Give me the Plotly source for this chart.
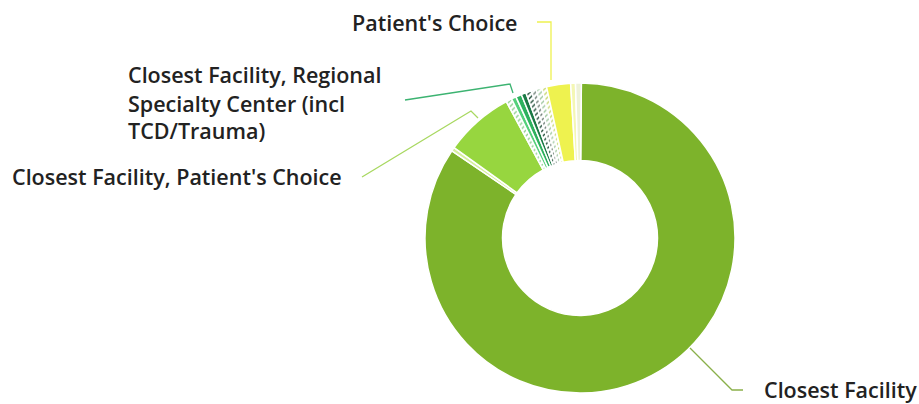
import plotly.graph_objects as go

W, H = 919, 404

# ---- data ----
categories = [
    "Closest Facility",
    "Closest Facility, Hospital Divert",
    "Closest Facility, Patient's Choice",
    "Closest Facility, On-Line Medical Direction",
    "Closest Facility, Regional Specialty Center (incl TCD/Trauma)",
    "Regional Specialty Center (incl TCD/Trauma)",
    "Closest Facility, Law Enforcement",
    "Family Choice",
    "Other",
    "Physician's Choice",
    "Closest Facility, Family Choice",
    "Patient's Choice",
    "Hospital Divert",
    "Law Enforcement",
]
values = [84.2, 0.4, 7.2, 0.6, 0.5, 0.6, 0.5, 0.6, 0.5, 0.6, 0.5, 2.5, 0.5, 0.6]
colors = ["#7db32b", "#d6ef9e", "#97d63f", "#ffffff", "#55d07a", "#2eb15e",
          "#1b7a45", "#ffffff", "#ffffff", "#ffffff", "#ffffff", "#eef24f",
          "#f4f7b4", "#eef2d8"]
pattern_shapes = ["", "", "", "/", "", "", "", "/", "/", "/", "/", "", "", ""]
pattern_fg = ["#000", "#000", "#000", "#8fd08f", "#000", "#000", "#000",
              "#1d4a35", "#6b7b73", "#a0c8a0", "#c8d870", "#000", "#000", "#000"]

# ---- geometry of the donut ----
cx, cy, R = 580, 238, 155

fig = go.Figure(go.Pie(
    labels=categories,
    values=values,
    sort=False,
    direction="clockwise",
    rotation=0.5,
    hole=0.5,
    textinfo="none",
    hoverinfo="label+percent",
    marker=dict(
        colors=colors,
        line=dict(color="white", width=1.5),
        pattern=dict(shape=pattern_shapes, fgcolor=pattern_fg, size=4, solidity=0.35),
    ),
    domain=dict(x=[(cx - R) / W, (cx + R) / W],
                y=[(H - cy - R) / H, (H - cy + R) / H]),
    showlegend=False,
))


def P(x, y):
    return x / W, 1 - y / H


def path(pts):
    s = ""
    for i, (x, y) in enumerate(pts):
        px, py = P(x, y)
        s += ("M" if i == 0 else "L") + f"{px:.5f},{py:.5f} "
    return s


leaders = [
    ([(690, 348), (732, 390), (743, 390)], "#8ab04a"),
    ([(362, 177), (471, 111), (478, 118)], "#a8d860"),
    ([(405, 100), (510, 84), (513, 93)], "#3cb371"),
    ([(537, 22), (551, 22), (551, 80)], "#eef250"),
]
for pts, col in leaders:
    fig.add_shape(type="path", path=path(pts), xref="paper", yref="paper",
                  line=dict(color=col, width=1.3))

font = dict(family="Open Sans", size=21.5, color="#222222", weight=600)
label_pos = [
    ("Closest Facility", 762, 389),
    ("Closest Facility, Patient's Choice", 10, 177),
    ("Closest Facility, Regional", 126, 75),
    ("Specialty Center (incl", 126, 103),
    ("TCD/Trauma)", 126, 130),
    ("Patient's Choice", 350, 22),
]
for txt, x, y in label_pos:
    px, py = P(x, y)
    fig.add_annotation(text=txt, x=px, y=py, xref="paper", yref="paper",
                       xanchor="left", yanchor="middle", showarrow=False, font=font)

fig.update_layout(width=W, height=H, margin=dict(l=0, r=0, t=0, b=0),
                  paper_bgcolor="white", plot_bgcolor="white")
fig.write_html("out.html", config={"displayModeBar": False},
               post_script="document.body.style.margin='0';document.body.style.overflow='hidden';")
